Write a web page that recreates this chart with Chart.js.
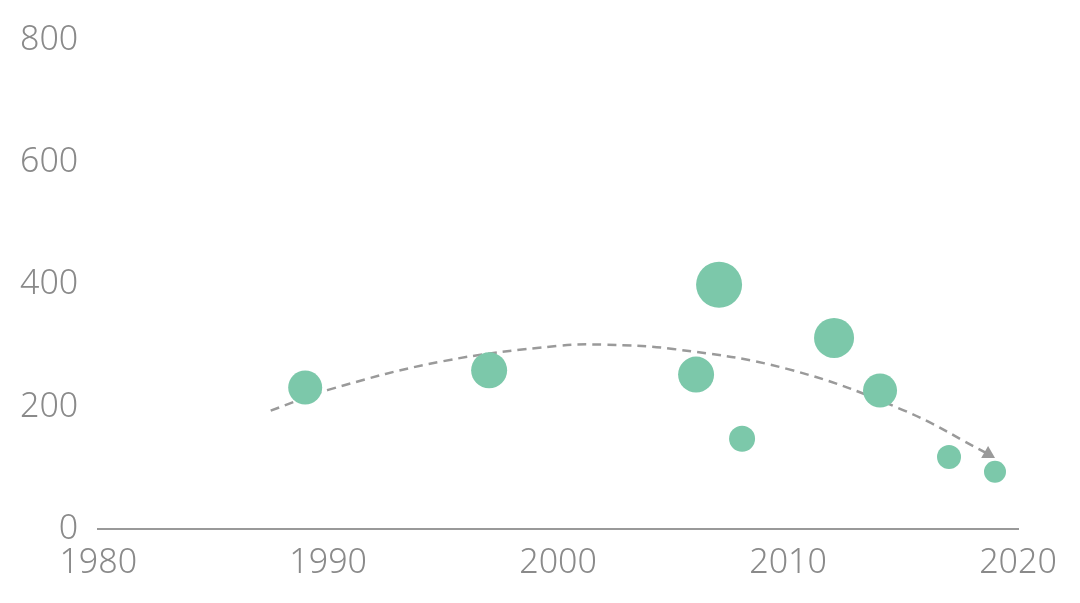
<!DOCTYPE html>
<html><head><meta charset="utf-8">
<script src="https://cdn.jsdelivr.net/npm/chart.js@4/dist/chart.umd.min.js"></script>
<style>html,body{margin:0;background:#fff}</style></head>
<body><canvas id="c" width="1080" height="603"></canvas>
<script>
const years=[1989,1997,2006,2007,2008,2012,2014,2017,2019];
const values=[232,260,253,400,148,313,227,118,94];
const sizes=[17,18,18,23,13,20,17,12,11];
const trendYears=[1987.5,1990,1995,2000,2002,2005,2010,2015,2018.7];
const trendValues=[194,228,275,300,302,295,262,195,123];
const xTicks=[1980,1990,2000,2010,2020];
const yTicks=[0,200,400,600,800];
new Chart(document.getElementById('c'),{
 data:{datasets:[
  {type:'line',data:trendYears.map((x,i)=>({x,y:trendValues[i]})),borderColor:'#9a9a9a',borderWidth:2.5,borderDash:[9,6],tension:0.4,fill:false,
   pointRadius:trendYears.map((_,i)=>i===trendYears.length-1?8:0),pointStyle:'triangle',pointBackgroundColor:'#9a9a9a',pointBorderWidth:0,order:2},
  {type:'bubble',data:years.map((x,i)=>({x,y:values[i],r:sizes[i]})),backgroundColor:'#7cc8aa',borderWidth:0,order:1}
 ]},
 options:{responsive:false,animation:false,
  layout:{padding:{left:0,right:62,top:20,bottom:5}},
  plugins:{legend:{display:false},tooltip:{enabled:false}},
  scales:{
   x:{type:'linear',min:1980,max:2020,afterBuildTicks:a=>{a.ticks=xTicks.map(v=>({value:v}))},
      grid:{display:false,drawTicks:false},border:{color:'#999',width:2},
      ticks:{color:'#8a8a8a',font:{size:34,family:'Noto Sans',weight:300},padding:14,callback:v=>v}},
   y:{min:0,max:800,afterBuildTicks:a=>{a.ticks=yTicks.map(v=>({value:v}))},
      grid:{display:false,drawTicks:false},border:{display:false},
      ticks:{color:'#8a8a8a',font:{size:34,family:'Noto Sans',weight:300},padding:20}}
  }}
});
</script></body></html>
